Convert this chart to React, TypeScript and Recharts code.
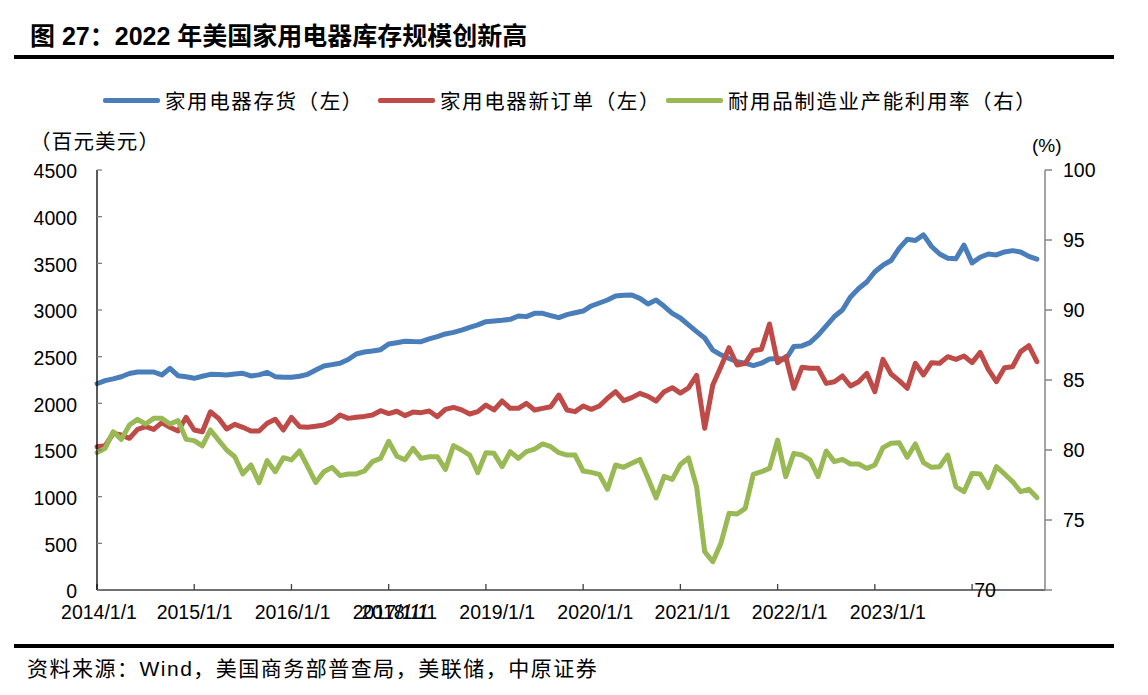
import React from 'react';
import { LineChart, Line, XAxis, YAxis, Legend, ReferenceDot } from 'recharts';

// Monthly categories: 2014-01 … 2023-09
const months: string[] = Array.from({ length: 117 }, (_, k) => `${2014 + Math.floor(k / 12)}-${String((k % 12) + 1).padStart(2, '0')}`);

// 家用电器存货（左），百万美元
const inventory = [
  2210, 2243, 2262, 2285, 2320, 2336, 2336, 2336, 2304, 2375,
  2296, 2285, 2268, 2290, 2311, 2310, 2304, 2315, 2322, 2293,
  2305, 2332, 2286, 2280, 2279, 2290, 2311, 2357, 2400, 2415,
  2429, 2470, 2529, 2550, 2560, 2575, 2636, 2650, 2665, 2662,
  2661, 2690, 2715, 2743, 2760, 2785, 2814, 2840, 2875, 2882,
  2890, 2900, 2936, 2929, 2964, 2964, 2940, 2918, 2950, 2970,
  2989, 3043, 3075, 3107, 3150, 3158, 3161, 3125, 3064, 3107,
  3040, 2964, 2914, 2840, 2768, 2700, 2571, 2520, 2480, 2445,
  2430, 2405, 2430, 2475, 2480, 2470, 2610, 2615, 2650, 2730,
  2830, 2930, 3000, 3140, 3230, 3300, 3410, 3480, 3530, 3660,
  3757, 3745, 3805, 3680, 3600, 3555, 3548, 3695, 3505, 3565,
  3600, 3590, 3622, 3636, 3622, 3575, 3545,
];

// 家用电器新订单（左）
const newOrders = [
  1535, 1545, 1678, 1661, 1625, 1721, 1750, 1721, 1793, 1743,
  1704, 1850, 1714, 1696, 1910, 1839, 1725, 1775, 1743, 1704,
  1704, 1786, 1829, 1714, 1850, 1750, 1743, 1755, 1768, 1804,
  1875, 1839, 1850, 1860, 1875, 1921, 1890, 1915, 1868, 1906,
  1900, 1918, 1857, 1936, 1957, 1930, 1886, 1911, 1982, 1929,
  2025, 1946, 1946, 2000, 1929, 1946, 1964, 2089, 1929, 1911,
  1971, 1936, 1971, 2054, 2125, 2029, 2061, 2107, 2075, 2025,
  2125, 2168, 2110, 2165, 2300, 1732, 2196, 2393, 2596, 2411,
  2429, 2564, 2579, 2850, 2436, 2500, 2161, 2386, 2375, 2375,
  2214, 2232, 2293, 2186, 2232, 2321, 2125, 2471, 2314, 2243,
  2161, 2429, 2304, 2436, 2429, 2500, 2471, 2507, 2436, 2546,
  2364, 2232, 2382, 2393, 2554, 2618, 2446,
];

// 耐用品制造业产能利用率（右），%
const utilization = [
  79.81, 80.12, 81.31, 80.76, 81.79, 82.19, 81.86, 82.26, 82.26, 81.86,
  82.1, 80.76, 80.67, 80.29, 81.43, 80.71, 80.0, 79.52, 78.29, 78.93,
  77.67, 79.24, 78.45, 79.45, 79.29, 79.93, 78.81, 77.67, 78.45, 78.76,
  78.17, 78.29, 78.29, 78.5, 79.17, 79.4, 80.62, 79.56, 79.3, 80.12,
  79.4, 79.52, 79.52, 78.62, 80.31, 80.0, 79.64, 78.38, 79.81, 79.76,
  78.81, 79.88, 79.4, 79.88, 80.07, 80.43, 80.24, 79.81, 79.64, 79.64,
  78.5, 78.4, 78.26, 77.19, 78.93, 78.76, 79.05, 79.33, 78.0, 76.58,
  78.12, 77.9, 78.96, 79.43, 77.38, 72.74, 72.02, 73.33, 75.48, 75.43,
  75.83, 78.26, 78.45, 78.69, 80.71, 78.1, 79.76, 79.64, 79.29, 78.1,
  79.93, 79.17, 79.33, 79.0, 79.0, 78.69, 78.93, 80.17, 80.48, 80.52,
  79.48, 80.43, 79.1, 78.76, 78.81, 79.64, 77.38, 77.02, 78.33, 78.29,
  77.31, 78.81, 78.29, 77.74, 77.02, 77.19, 76.6,
];

// Axis ticks and labels
const xTickAt = [0, 12, 24, 36, 48, 60, 72, 84, 96, 108];
const xLabelAt = [0.25, 12.05, 24.15, 36.25, 37.3, 49.4, 61.5, 73.5, 85.5, 97.6];
const xLabels = ['2014/1/1', '2015/1/1', '2016/1/1', '2017/1/1', '2018/1/1', '2019/1/1', '2020/1/1', '2021/1/1', '2022/1/1', '2023/1/1'];
const leftTicks = [0, 500, 1000, 1500, 2000, 2500, 3000, 3500, 4000, 4500];
const rightTicks = [70, 75, 80, 85, 90, 95, 100];
const strayLabel = { text: '70', at: 109.6, value: 70 };

const BLUE = '#4A7EBB';
const RED = '#BE4B48';
const GREEN = '#98B954';
const LATIN = "'Liberation Sans', Arial, sans-serif";
const CJK = "'Noto Sans CJK SC', 'Liberation Sans', sans-serif";
const TITLE_FONT = "'Liberation Sans', 'Noto Sans CJK SC', sans-serif";

const series = [
  { key: 'inv', name: '家用电器存货（左）', color: BLUE, axis: 'left', left: 103 },
  { key: 'ord', name: '家用电器新订单（左）', color: RED, axis: 'left', left: 378 },
  { key: 'util', name: '耐用品制造业产能利用率（右）', color: GREEN, axis: 'right', left: 666 },
];

const data = months.map((m, i) => ({ i, month: m, inv: inventory[i], ord: newOrders[i], util: utilization[i] }));

const tickStyle = { fill: '#000', fontSize: 19.5, fontFamily: LATIN };

function LegendContent() {
  return (
    <div style={{ position: 'relative', width: 1148, height: 28 }}>
      {series.map((s) => (
        <div key={s.key} style={{ position: 'absolute', left: s.left, top: 0, height: 28, display: 'flex', alignItems: 'center' }}>
          <span style={{ display: 'inline-block', width: 57, height: 5, background: s.color, marginRight: 5, borderRadius: 2 }} />
          <span style={{ fontSize: 20.5, letterSpacing: 1.6, fontFamily: CJK, color: '#000', whiteSpace: 'nowrap', lineHeight: '28px' }}>{s.name}</span>
        </div>
      ))}
    </div>
  );
}

export default function App() {
  return (
    <div style={{ position: 'absolute', left: 0, top: 0, width: 1148, height: 695, background: '#fff', overflow: 'hidden' }}>
      <div style={{ position: 'absolute', left: 30, top: 22, fontSize: 25, lineHeight: '28px', fontWeight: 'bold', fontFamily: TITLE_FONT, color: '#000', whiteSpace: 'nowrap' }}>
        图 27：2022 年美国家用电器库存规模创新高
      </div>
      <div style={{ position: 'absolute', left: 14, top: 55, width: 1100, height: 4, background: '#000' }} />

      <div style={{ position: 'absolute', left: 30, top: 127, fontSize: 20.5, letterSpacing: 1.2, lineHeight: '26px', fontFamily: CJK, color: '#000', whiteSpace: 'nowrap' }}>
        （百元美元）
      </div>
      <div style={{ position: 'absolute', left: 1032, top: 133, fontSize: 19, lineHeight: '26px', fontFamily: LATIN, color: '#000', whiteSpace: 'nowrap' }}>
        (%)
      </div>

      <div style={{ position: 'absolute', left: 0, top: 0 }}>
        <LineChart width={1148} height={695} data={data} margin={{ top: 170, right: 0, bottom: 74, left: 0 }}>
          <XAxis
            xAxisId={0}
            type="number"
            dataKey="i"
            domain={[0, 117]}
            ticks={xTickAt}
            interval={0}
            height={1}
            tickSize={-6}
            tickFormatter={() => ''}
            axisLine={{ stroke: '#404040', strokeWidth: 1.3 }}
            tickLine={{ stroke: '#404040', strokeWidth: 1.3 }}
            tick={tickStyle}
          />
          <XAxis
            xAxisId="lbl"
            type="number"
            dataKey="i"
            domain={[0, 117]}
            ticks={xLabelAt}
            interval={0}
            height={30}
            tickSize={0}
            tickMargin={14}
            axisLine={false}
            tickLine={false}
            tickFormatter={(v: number) => xLabels[xLabelAt.indexOf(v)] ?? ''}
            tick={tickStyle}
          />
          <YAxis
            yAxisId="left"
            orientation="left"
            width={97}
            domain={[0, 4500]}
            ticks={leftTicks}
            interval={0}
            tickSize={-5}
            tickMargin={25}
            axisLine={{ stroke: '#000', strokeWidth: 1.3 }}
            tickLine={{ stroke: '#808080', strokeWidth: 1.3 }}
            tick={{ ...tickStyle, dy: 1.5 }}
          />
          <YAxis
            yAxisId="right"
            orientation="right"
            width={103}
            domain={[70, 100]}
            ticks={rightTicks}
            interval={0}
            tickSize={7}
            tickMargin={11}
            tickFormatter={(v: number) => (v === strayLabel.value ? '' : String(v))}
            axisLine={{ stroke: '#868686', strokeWidth: 1.5 }}
            tickLine={{ stroke: '#868686', strokeWidth: 1.5 }}
            tick={tickStyle}
          />
          <Legend
            verticalAlign="middle"
            align="center"
            layout="horizontal"
            content={() => <LegendContent />}
            wrapperStyle={{ top: 86, left: 0, width: 1148, height: 28 }}
          />
          {series.map((s) => (
            <Line
              key={s.key}
              yAxisId={s.axis}
              xAxisId={0}
              type="linear"
              dataKey={s.key}
              name={s.name}
              stroke={s.color}
              strokeWidth={5}
              strokeLinejoin="round"
              strokeLinecap="round"
              dot={false}
              activeDot={false}
              isAnimationActive={false}
            />
          ))}
          <ReferenceDot
            xAxisId={0}
            yAxisId="right"
            x={strayLabel.at}
            y={strayLabel.value}
            r={0}
            fill="none"
            stroke="none"
            ifOverflow="visible"
            label={{ value: strayLabel.text, position: 'center', fill: '#000', fontSize: 19.5, fontFamily: LATIN }}
          />
        </LineChart>
      </div>

      <div style={{ position: 'absolute', left: 14, top: 644, width: 1100, height: 4, background: '#000' }} />
      <div style={{ position: 'absolute', left: 27, top: 654, fontSize: 21, lineHeight: '26px', letterSpacing: 1.5, fontFamily: CJK, color: '#000', whiteSpace: 'nowrap' }}>
        资料来源：<span style={{ fontFamily: LATIN }}>Wind</span>，美国商务部普查局，美联储，中原证券
      </div>
    </div>
  );
}
